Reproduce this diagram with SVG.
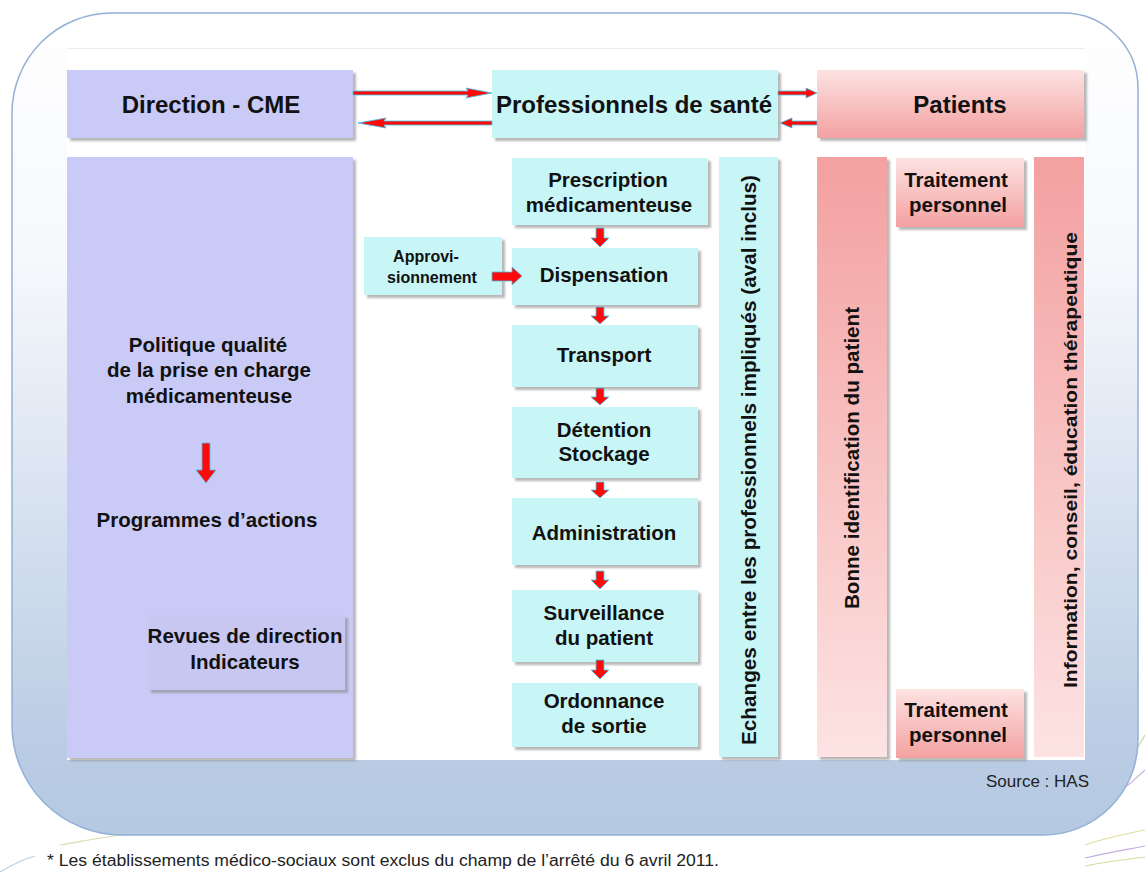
<svg xmlns="http://www.w3.org/2000/svg" width="1145" height="877" viewBox="0 0 1145 877">
<defs>
<linearGradient id="bg" x1="0" y1="0" x2="0" y2="1">
<stop offset="0" stop-color="#ffffff"/>
<stop offset="0.3" stop-color="#f6f8fc"/>
<stop offset="0.9" stop-color="#b9cce4"/>
<stop offset="1" stop-color="#b6c9e2"/>
</linearGradient>
<linearGradient id="pinkDown" x1="0" y1="0" x2="0" y2="1">
<stop offset="0" stop-color="#fde2e2"/>
<stop offset="1" stop-color="#f3a1a1"/>
</linearGradient>
<linearGradient id="pinkUp" x1="0" y1="0" x2="0" y2="1">
<stop offset="0" stop-color="#f3a0a0"/>
<stop offset="1" stop-color="#fde3e3"/>
</linearGradient>
<filter id="sh" x="-10%" y="-10%" width="130%" height="130%">
<feDropShadow dx="3" dy="3" stdDeviation="1" flood-color="#888" flood-opacity="0.6"/>
</filter>
</defs>
<style>
.t{font-family:"Liberation Sans",Arial,sans-serif;font-weight:bold;fill:#111;text-anchor:middle}
.f20{font-size:20.5px}
.f24{font-size:24px}
.lav{fill:#cacaf6}
.cy{fill:#c8f5f5}
.arr{fill:#ff0a0a;stroke:#3cc8f0;stroke-width:0.8}
.deco{fill:none;stroke-width:1.2;opacity:0.7}
</style>

<g id="background">
<path d="M1085,800 C1105,790 1125,770 1145,735" class="deco" stroke="#9cc47a"/>
<path d="M1085,812 C1110,800 1130,785 1145,770" class="deco" stroke="#b090d0"/>
<path d="M1085,845 C1105,838 1125,834 1145,830" class="deco" stroke="#d4d070"/>
<path d="M1085,858 C1110,852 1130,849 1145,846" class="deco" stroke="#a88cd0"/>
<path d="M1085,866 C1110,861 1130,859 1145,857" class="deco" stroke="#b8d070"/>
<path d="M0,872 C10,866 20,860 35,856" class="deco" stroke="#a0b8d0"/>
<path d="M60,845 C90,840 110,836 130,834" class="deco" stroke="#c8d090"/>
<path d="M112,13 H1063 A75,75 0 0 1 1138,88 V740 A95,95 0 0 1 1043,835 H122 A110,110 0 0 1 12,725 V113 A100,100 0 0 1 112,13 Z" fill="url(#bg)" stroke="#93b0d6" stroke-width="1.5"/>
<rect x="67" y="48" width="1018" height="712" fill="#ffffff"/>
<line x1="67" y1="48.5" x2="1085" y2="48.5" stroke="#ececec" stroke-width="1"/>
</g>

<g id="direction-cme">
<rect x="67" y="70" width="286" height="68" class="lav" filter="url(#sh)"/>
<text x="211" y="113" class="t f24">Direction - CME</text>
</g>

<g id="professionnels">
<rect x="492" y="70" width="286" height="68" class="cy" filter="url(#sh)"/>
<text x="634" y="113" class="t f24">Professionnels de santé</text>
</g>

<g id="patients">
<rect x="817" y="70" width="267" height="68" fill="url(#pinkDown)" filter="url(#sh)"/>
<text x="960" y="113" class="t f24">Patients</text>
</g>

<g id="politique">
<rect x="67" y="157" width="286" height="601" class="lav" filter="url(#sh)"/>
<text x="208" y="352" class="t f20">Politique qualité</text>
<text x="209" y="377" class="t f20">de la prise en charge</text>
<text x="209" y="403" class="t f20">médicamenteuse</text>
<text x="207" y="527" class="t f20">Programmes d’actions</text>
</g>

<g id="revues">
<rect x="148" y="615" width="197" height="75" fill="#c7c7f2" filter="url(#sh)"/>
<text x="245" y="643" class="t f20">Revues de direction</text>
<text x="245" y="669" class="t f20">Indicateurs</text>
</g>

<g id="approvisionnement">
<rect x="364" y="237" width="138" height="58" class="cy" filter="url(#sh)"/>
<text x="426" y="262" class="t" font-size="16">Approvi-</text>
<text x="432" y="283" class="t" font-size="16">sionnement</text>
</g>

<g id="prescription">
<rect x="512" y="158" width="196" height="67" class="cy" filter="url(#sh)"/>
<text x="608" y="187" class="t f20">Prescription</text>
<text x="609" y="212" class="t f20">médicamenteuse</text>
</g>

<g id="dispensation">
<rect x="512" y="248" width="186" height="57" class="cy" filter="url(#sh)"/>
<text x="604" y="282" class="t f20">Dispensation</text>
</g>

<g id="transport">
<rect x="512" y="325" width="186" height="62" class="cy" filter="url(#sh)"/>
<text x="604" y="362" class="t f20">Transport</text>
</g>

<g id="detention">
<rect x="512" y="407" width="186" height="71" class="cy" filter="url(#sh)"/>
<text x="604" y="437" class="t f20">Détention</text>
<text x="604" y="461" class="t f20">Stockage</text>
</g>

<g id="administration">
<rect x="512" y="498" width="186" height="67" class="cy" filter="url(#sh)"/>
<text x="604" y="540" class="t f20">Administration</text>
</g>

<g id="surveillance">
<rect x="512" y="590" width="186" height="72" class="cy" filter="url(#sh)"/>
<text x="604" y="620" class="t f20">Surveillance</text>
<text x="604" y="645" class="t f20">du patient</text>
</g>

<g id="ordonnance">
<rect x="512" y="683" width="186" height="64" class="cy" filter="url(#sh)"/>
<text x="604" y="708" class="t f20">Ordonnance</text>
<text x="604" y="733" class="t f20">de sortie</text>
</g>

<g id="echanges">
<rect x="719" y="157" width="59" height="600" class="cy" filter="url(#sh)"/>
<text transform="translate(756,460) rotate(-90)" class="t f20" textLength="570" lengthAdjust="spacingAndGlyphs">Echanges entre les professionnels impliqués (aval inclus)</text>
</g>

<g id="bonne-identification">
<rect x="817" y="157" width="70" height="600" fill="url(#pinkUp)" filter="url(#sh)"/>
<text transform="translate(859,458) rotate(-90)" class="t f20" textLength="302" lengthAdjust="spacingAndGlyphs">Bonne identification du patient</text>
</g>

<g id="traitement-haut">
<rect x="896" y="158" width="128" height="69" fill="url(#pinkDown)" filter="url(#sh)"/>
<text x="956" y="187" class="t f20">Traitement</text>
<text x="958" y="212" class="t f20">personnel</text>
</g>

<g id="traitement-bas">
<rect x="896" y="689" width="128" height="69" fill="url(#pinkDown)" filter="url(#sh)"/>
<text x="956" y="717" class="t f20">Traitement</text>
<text x="958" y="742" class="t f20">personnel</text>
</g>

<g id="information">
<rect x="1034" y="157" width="50" height="600" fill="url(#pinkUp)"/>
<text transform="translate(1077,460) rotate(-90)" class="t" font-size="19" textLength="456" lengthAdjust="spacingAndGlyphs">Information, conseil, éducation thérapeutique</text>
</g>

<g id="connectors">
<path class="arr" d="M353,91 H468 L466,88 L492,93 L466,98 L468,95 H353 Z"/>
<path class="arr" d="M492,121 H384 L386,118 L358,123 L386,128 L384,125 H492 Z"/>
<path class="arr" d="M778,91 H806 V88 L817,93 L806,98 V95 H778 Z"/>
<path class="arr" d="M817,121 H792 V118 L780,123 L792,128 V125 H817 Z"/>
<path class="arr" d="M492,272 H512 V267 L522,276 L512,285 V281 H492 Z"/>
<path class="arr" d="M202,443 H210 V470 H216 L206,483 L196,470 H202 Z"/>
<path class="arr" d="M596,228 H604 V238 H609 L600,247 L591,238 H596 Z"/>
<path class="arr" d="M596,307 H604 V316 H609 L600,324 L591,316 H596 Z"/>
<path class="arr" d="M596,388 H604 V397 H609 L600,405 L591,397 H596 Z"/>
<path class="arr" d="M596,482 H604 V490 H609 L600,498 L591,490 H596 Z"/>
<path class="arr" d="M596,571 H604 V580 H609 L600,589 L591,580 H596 Z"/>
<path class="arr" d="M596,660 H604 V670 H609 L600,679 L591,670 H596 Z"/>
</g>

<g id="notes">
<text x="1089" y="787" font-family="'Liberation Sans',Arial,sans-serif" font-size="17" fill="#222" text-anchor="end">Source : HAS</text>
<text x="47" y="866" font-family="'Liberation Sans',Arial,sans-serif" font-size="16" fill="#222" textLength="672" lengthAdjust="spacingAndGlyphs">* Les établissements médico-sociaux sont exclus du champ de l’arrêté du 6 avril 2011.</text>
</g>
</svg>
